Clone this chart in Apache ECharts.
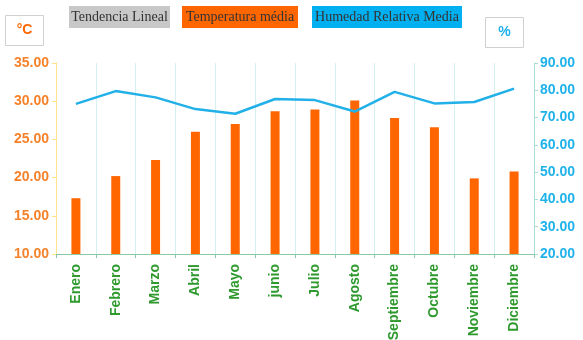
<!DOCTYPE html>
<html>
<head>
  <meta charset="UTF-8">
  <style>
    html, body { margin: 0; padding: 0; background: #fff; }
  </style>
  <script src="https://cdn.jsdelivr.net/npm/echarts@6/dist/echarts.min.js"></script>
</head>
<body>
  <div id="chart" style="width: 583px; height: 340px;"></div>
  <script>
    const months = ['Enero', 'Febrero', 'Marzo', 'Abril', 'Mayo', 'junio', 'Julio',
                    'Agosto', 'Septiembre', 'Octubre', 'Noviembre', 'Diciembre']
    const tempMedia = [17.3, 20.2, 22.3, 26.0, 27.0, 28.7, 28.9, 30.1, 27.8, 26.6, 19.9, 20.8]
    const humedad = [75.0, 79.7, 77.4, 73.1, 71.4, 76.8, 76.4, 72.2, 79.4, 75.2, 75.7, 80.6]
    const legendNames = ['Tendencia Lineal', 'Temperatura média', 'Humedad Relativa Media']

    const myChart = echarts.init(document.getElementById('chart'))

    // legend boxes drawn by hand: coloured blocks with serif text
    function legendBox (x, w, fill, label) {
      return {
        type: 'group',
        left: x,
        top: 6,
        children: [
          { type: 'rect', shape: { x: 0, y: 0, width: w, height: 22 }, style: { fill: fill } },
          { type: 'text', x: w / 2, y: 11,
            style: { text: label, fill: '#333', font: '14px "Liberation Serif"', align: 'center', verticalAlign: 'middle' } }
        ]
      }
    }
    function unitBox (x, y, label, color) {
      return {
        type: 'group',
        left: x,
        top: y,
        children: [
          { type: 'rect', shape: { x: 0, y: 0, width: 38, height: 30 },
            style: { fill: '#fff', stroke: '#d0d0d0', lineWidth: 1 } },
          { type: 'text', x: 19, y: 15,
            style: { text: label, fill: color, font: 'bold 14px "Liberation Sans"', align: 'center', verticalAlign: 'middle' } }
        ]
      }
    }

    const options = {
      animation: false,
      textStyle: { fontFamily: 'Liberation Sans' },
      grid: { left: 56, right: 49, top: 63, bottom: 86, outerBoundsMode: 'none' },
      graphic: [
        legendBox(69, 101, '#c8c8c8', legendNames[0]),
        legendBox(182, 116, '#ff6600', legendNames[1]),
        legendBox(312, 150, '#00b0f0', legendNames[2]),
        unitBox(5, 15, '°C', '#ff6600'),
        unitBox(485, 17, '%', '#1fb2ea')
      ],
      xAxis: {
        type: 'category',
        data: months,
        axisLine: { lineStyle: { color: '#8cc9a6', width: 1 } },
        axisTick: { show: true, length: 4, lineStyle: { color: '#8cc9a6' } },
        splitLine: { show: true, lineStyle: { color: '#d4f1f1', width: 1 } },
        axisLabel: {
          rotate: 90,
          color: '#2e9a2e',
          fontWeight: 'bold',
          fontSize: 14,
          margin: 10
        }
      },
      yAxis: [
        {
          type: 'value',
          min: 10,
          max: 35,
          interval: 5,
          position: 'left',
          axisLine: { show: true, lineStyle: { color: '#ffe38a' } },
          axisTick: { show: true, length: 4, lineStyle: { color: '#ffe38a' } },
          splitLine: { show: false },
          axisLabel: {
            color: '#f5822a',
            fontWeight: 'bold',
            fontSize: 14,
            margin: 7,
            formatter: v => v.toFixed(2)
          }
        },
        {
          type: 'value',
          min: 20,
          max: 90,
          interval: 10,
          position: 'right',
          axisLine: { show: true, lineStyle: { color: '#a8dcd6' } },
          axisTick: { show: true, length: 4, lineStyle: { color: '#a8dcd6' } },
          splitLine: { show: false },
          axisLabel: {
            color: '#1fb2ea',
            fontWeight: 'bold',
            fontSize: 14,
            margin: 6,
            formatter: v => v.toFixed(2)
          }
        }
      ],
      series: [
        {
          name: legendNames[1],
          type: 'bar',
          yAxisIndex: 0,
          barWidth: 9,
          itemStyle: { color: '#ff6600' },
          data: tempMedia
        },
        {
          name: legendNames[2],
          type: 'line',
          yAxisIndex: 1,
          symbol: 'none',
          lineStyle: { color: '#22b0e8', width: 2.5 },
          data: humedad
        }
      ]
    }

    myChart.setOption(options)
  </script>
</body>
</html>
